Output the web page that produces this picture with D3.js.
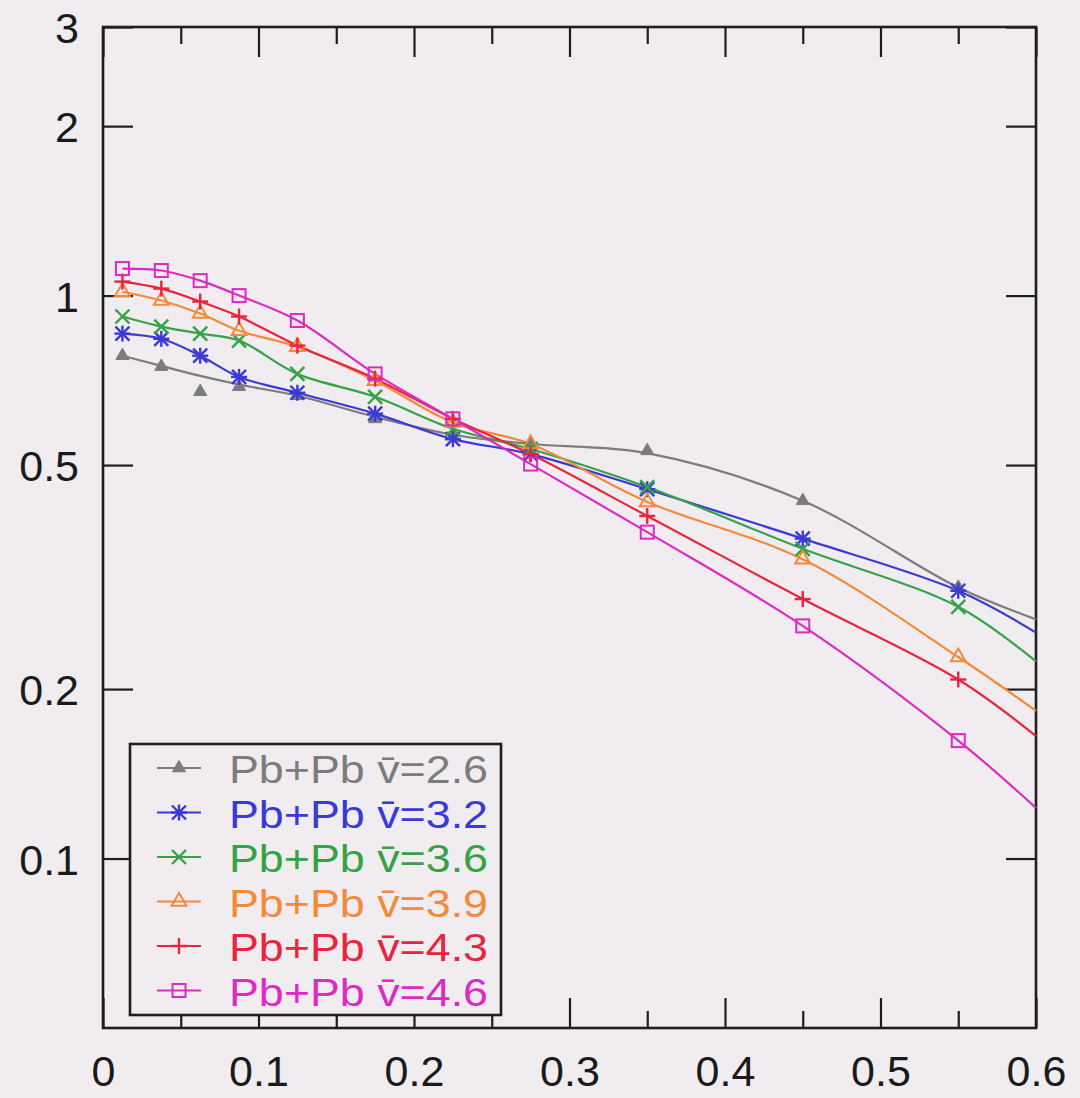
<!DOCTYPE html>
<html><head><meta charset="utf-8">
<script src="https://cdn.jsdelivr.net/npm/d3@7"></script>
<style>body{margin:0;background:#f0ecf0}svg{display:block}</style>
</head><body><svg id="c" width="1080" height="1098"></svg>
<script>
// ---- data ----
const xValues = [0.0125, 0.0375, 0.0625, 0.0875, 0.125, 0.175, 0.225, 0.275, 0.35, 0.45, 0.55];
const xEnd = 0.6;
const seriesLabels = ["Pb+Pb v\u0304=2.6", "Pb+Pb v\u0304=3.2", "Pb+Pb v\u0304=3.6", "Pb+Pb v\u0304=3.9", "Pb+Pb v\u0304=4.3", "Pb+Pb v\u0304=4.6"];
const grayPoints    = [0.782, 0.748, 0.675, 0.689, 0.664, 0.604, 0.563, 0.545, 0.530, 0.432, 0.303];
const bluePoints    = [0.856, 0.838, 0.782, 0.717, 0.672, 0.617, 0.556, 0.523, 0.453, 0.370, 0.299];
const greenPoints   = [0.918, 0.881, 0.856, 0.832, 0.726, 0.661, 0.580, 0.534, 0.457, 0.355, 0.280];
const orangePoints  = [1.016, 0.980, 0.929, 0.866, 0.811, 0.706, 0.595, 0.545, 0.430, 0.340, 0.228];
const redPoints     = [1.059, 1.029, 0.976, 0.918, 0.815, 0.712, 0.604, 0.523, 0.406, 0.289, 0.208];
const magentaPoints = [1.117, 1.108, 1.063, 1.000, 0.903, 0.726, 0.604, 0.502, 0.380, 0.259, 0.162];
// smooth curve for the gray series (it does not pass through every point)
const grayCurve     = [0.782, 0.750, 0.720, 0.695, 0.664, 0.609, 0.566, 0.545, 0.525, 0.432, 0.303];
// curve values at the right edge (x = 0.6)
const curveEnd = [0.266, 0.252, 0.224, 0.183, 0.165, 0.123];
const yTickValues = [0.1, 0.2, 0.5, 1, 2, 3];
const yTickLabels = ["0.1", "0.2", "0.5", "1", "2", "3"];
const xTickValues = [0, 0.1, 0.2, 0.3, 0.4, 0.5, 0.6];
const xTickLabels = ["0", "0.1", "0.2", "0.3", "0.4", "0.5", "0.6"];
const xMinorTicks = [0.05, 0.15, 0.25, 0.35, 0.45, 0.55];

// ---- styling ----
const colors = ["#7c7c7c", "#3a3ad6", "#35a345", "#f28a3a", "#e8243e", "#de2ac4"];
const markers = ["triFilled", "asterisk", "cross", "triOpen", "plus", "square"];
const allPoints = [grayPoints, bluePoints, greenPoints, orangePoints, redPoints, magentaPoints];

const L = 103, R = 1036, T = 27, B = 1028;
const svg = d3.select("#c");
const x = d3.scaleLinear().domain([0, 0.6]).range([L, R]);
const y = d3.scaleLog().domain([0.05, 3]).range([B, T]);
const axisColor = "#1e1e1e";
const font = "'Liberation Sans', Arial, Helvetica, sans-serif";

function styleAxis(g) {
  g.select(".domain").remove();
  g.selectAll(".tick line").attr("stroke", axisColor).attr("stroke-width", 2.2);
  g.selectAll(".tick text").attr("fill", "#1a1a1a").style("font-family", font).style("font-size", "43px");
}

// bottom
svg.append("g").attr("transform", `translate(0,${B})`)
  .call(d3.axisBottom(x).tickValues(xTickValues).tickSizeInner(-30).tickSizeOuter(0).tickPadding(27)
    .tickFormat((d, i) => xTickLabels[i])).call(styleAxis);
svg.append("g").attr("transform", `translate(0,${B})`)
  .call(d3.axisBottom(x).tickValues(xMinorTicks).tickSizeInner(-17).tickSizeOuter(0).tickFormat("")).call(styleAxis);
// top
svg.append("g").attr("transform", `translate(0,${T})`)
  .call(d3.axisTop(x).tickValues(xTickValues).tickSizeInner(-30).tickSizeOuter(0).tickFormat("")).call(styleAxis);
svg.append("g").attr("transform", `translate(0,${T})`)
  .call(d3.axisTop(x).tickValues(xMinorTicks).tickSizeInner(-17).tickSizeOuter(0).tickFormat("")).call(styleAxis);
// left
const ly = svg.append("g").attr("transform", `translate(${L},0)`)
  .call(d3.axisLeft(y).tickValues(yTickValues).tickSizeInner(-30).tickSizeOuter(0).tickPadding(24)
    .tickFormat((d, i) => yTickLabels[i])).call(styleAxis);
ly.selectAll(".tick text").attr("dy", "0.36em");
// right
svg.append("g").attr("transform", `translate(${R},0)`)
  .call(d3.axisRight(y).tickValues(yTickValues).tickSizeInner(-30).tickSizeOuter(0).tickFormat("")).call(styleAxis);

// frame
svg.append("rect").attr("x", L).attr("y", T).attr("width", R - L).attr("height", B - T)
  .attr("fill", "none").attr("stroke", axisColor).attr("stroke-width", 2.6);

// marker drawing
function drawMarker(g, type, cx, cy, color) {
  const s = 7;
  if (type === "triFilled") {
    g.append("path").attr("d", d3.symbol(d3.symbolTriangle, 75)()).attr("transform", `translate(${cx},${cy})`)
      .attr("fill", color).attr("stroke", color).attr("stroke-width", 1);
  } else if (type === "triOpen") {
    g.append("path").attr("d", d3.symbol(d3.symbolTriangle, 95)()).attr("transform", `translate(${cx},${cy})`)
      .attr("fill", "none").attr("stroke", color).attr("stroke-width", 2);
  } else if (type === "square") {
    g.append("rect").attr("x", cx - 6.5).attr("y", cy - 6.5).attr("width", 13).attr("height", 13)
      .attr("fill", "none").attr("stroke", color).attr("stroke-width", 2);
  } else {
    const segs = [];
    if (type === "plus" || type === "asterisk") { segs.push([-s - 1, 0, s + 1, 0], [0, -s - 1, 0, s + 1]); }
    if (type === "cross" || type === "asterisk") { segs.push([-s, -s, s, s], [-s, s, s, -s]); }
    segs.forEach(q => g.append("line").attr("x1", cx + q[0]).attr("y1", cy + q[1]).attr("x2", cx + q[2]).attr("y2", cy + q[3])
      .attr("stroke", color).attr("stroke-width", 2.4));
  }
}

const line = d3.line().x(d => x(d[0])).y(d => y(d[1])).curve(d3.curveCatmullRom.alpha(0.5));
const plot = svg.append("g");
allPoints.forEach((pts, i) => {
  const base = i === 0 ? grayCurve : pts;
  const curveData = xValues.map((xv, j) => [xv, base[j]]).concat([[xEnd, curveEnd[i]]]);
  plot.append("path").datum(curveData).attr("d", line).attr("fill", "none")
    .attr("stroke", colors[i]).attr("stroke-width", 2.2);
});
allPoints.forEach((pts, i) => {
  const g = plot.append("g");
  pts.forEach((v, j) => drawMarker(g, markers[i], x(xValues[j]), y(v), colors[i]));
});

// legend
const lg = svg.append("g");
lg.append("rect").attr("x", 130).attr("y", 744).attr("width", 371).attr("height", 271)
  .attr("fill", "#f0ecf0").attr("stroke", axisColor).attr("stroke-width", 2.6);
seriesLabels.forEach((lab, i) => {
  const base = 783 + i * 44.5;
  const cy = base - 15;
  lg.append("line").attr("x1", 157).attr("x2", 201).attr("y1", cy).attr("y2", cy)
    .attr("stroke", colors[i]).attr("stroke-width", 2);
  drawMarker(lg, markers[i], 179, cy, colors[i]);
  lg.append("text").attr("x", 229).attr("y", base).text(lab)
    .attr("textLength", 259).attr("lengthAdjust", "spacingAndGlyphs")
    .attr("fill", colors[i]).style("font-family", font).style("font-size", "38px");
});
</script></body></html>
